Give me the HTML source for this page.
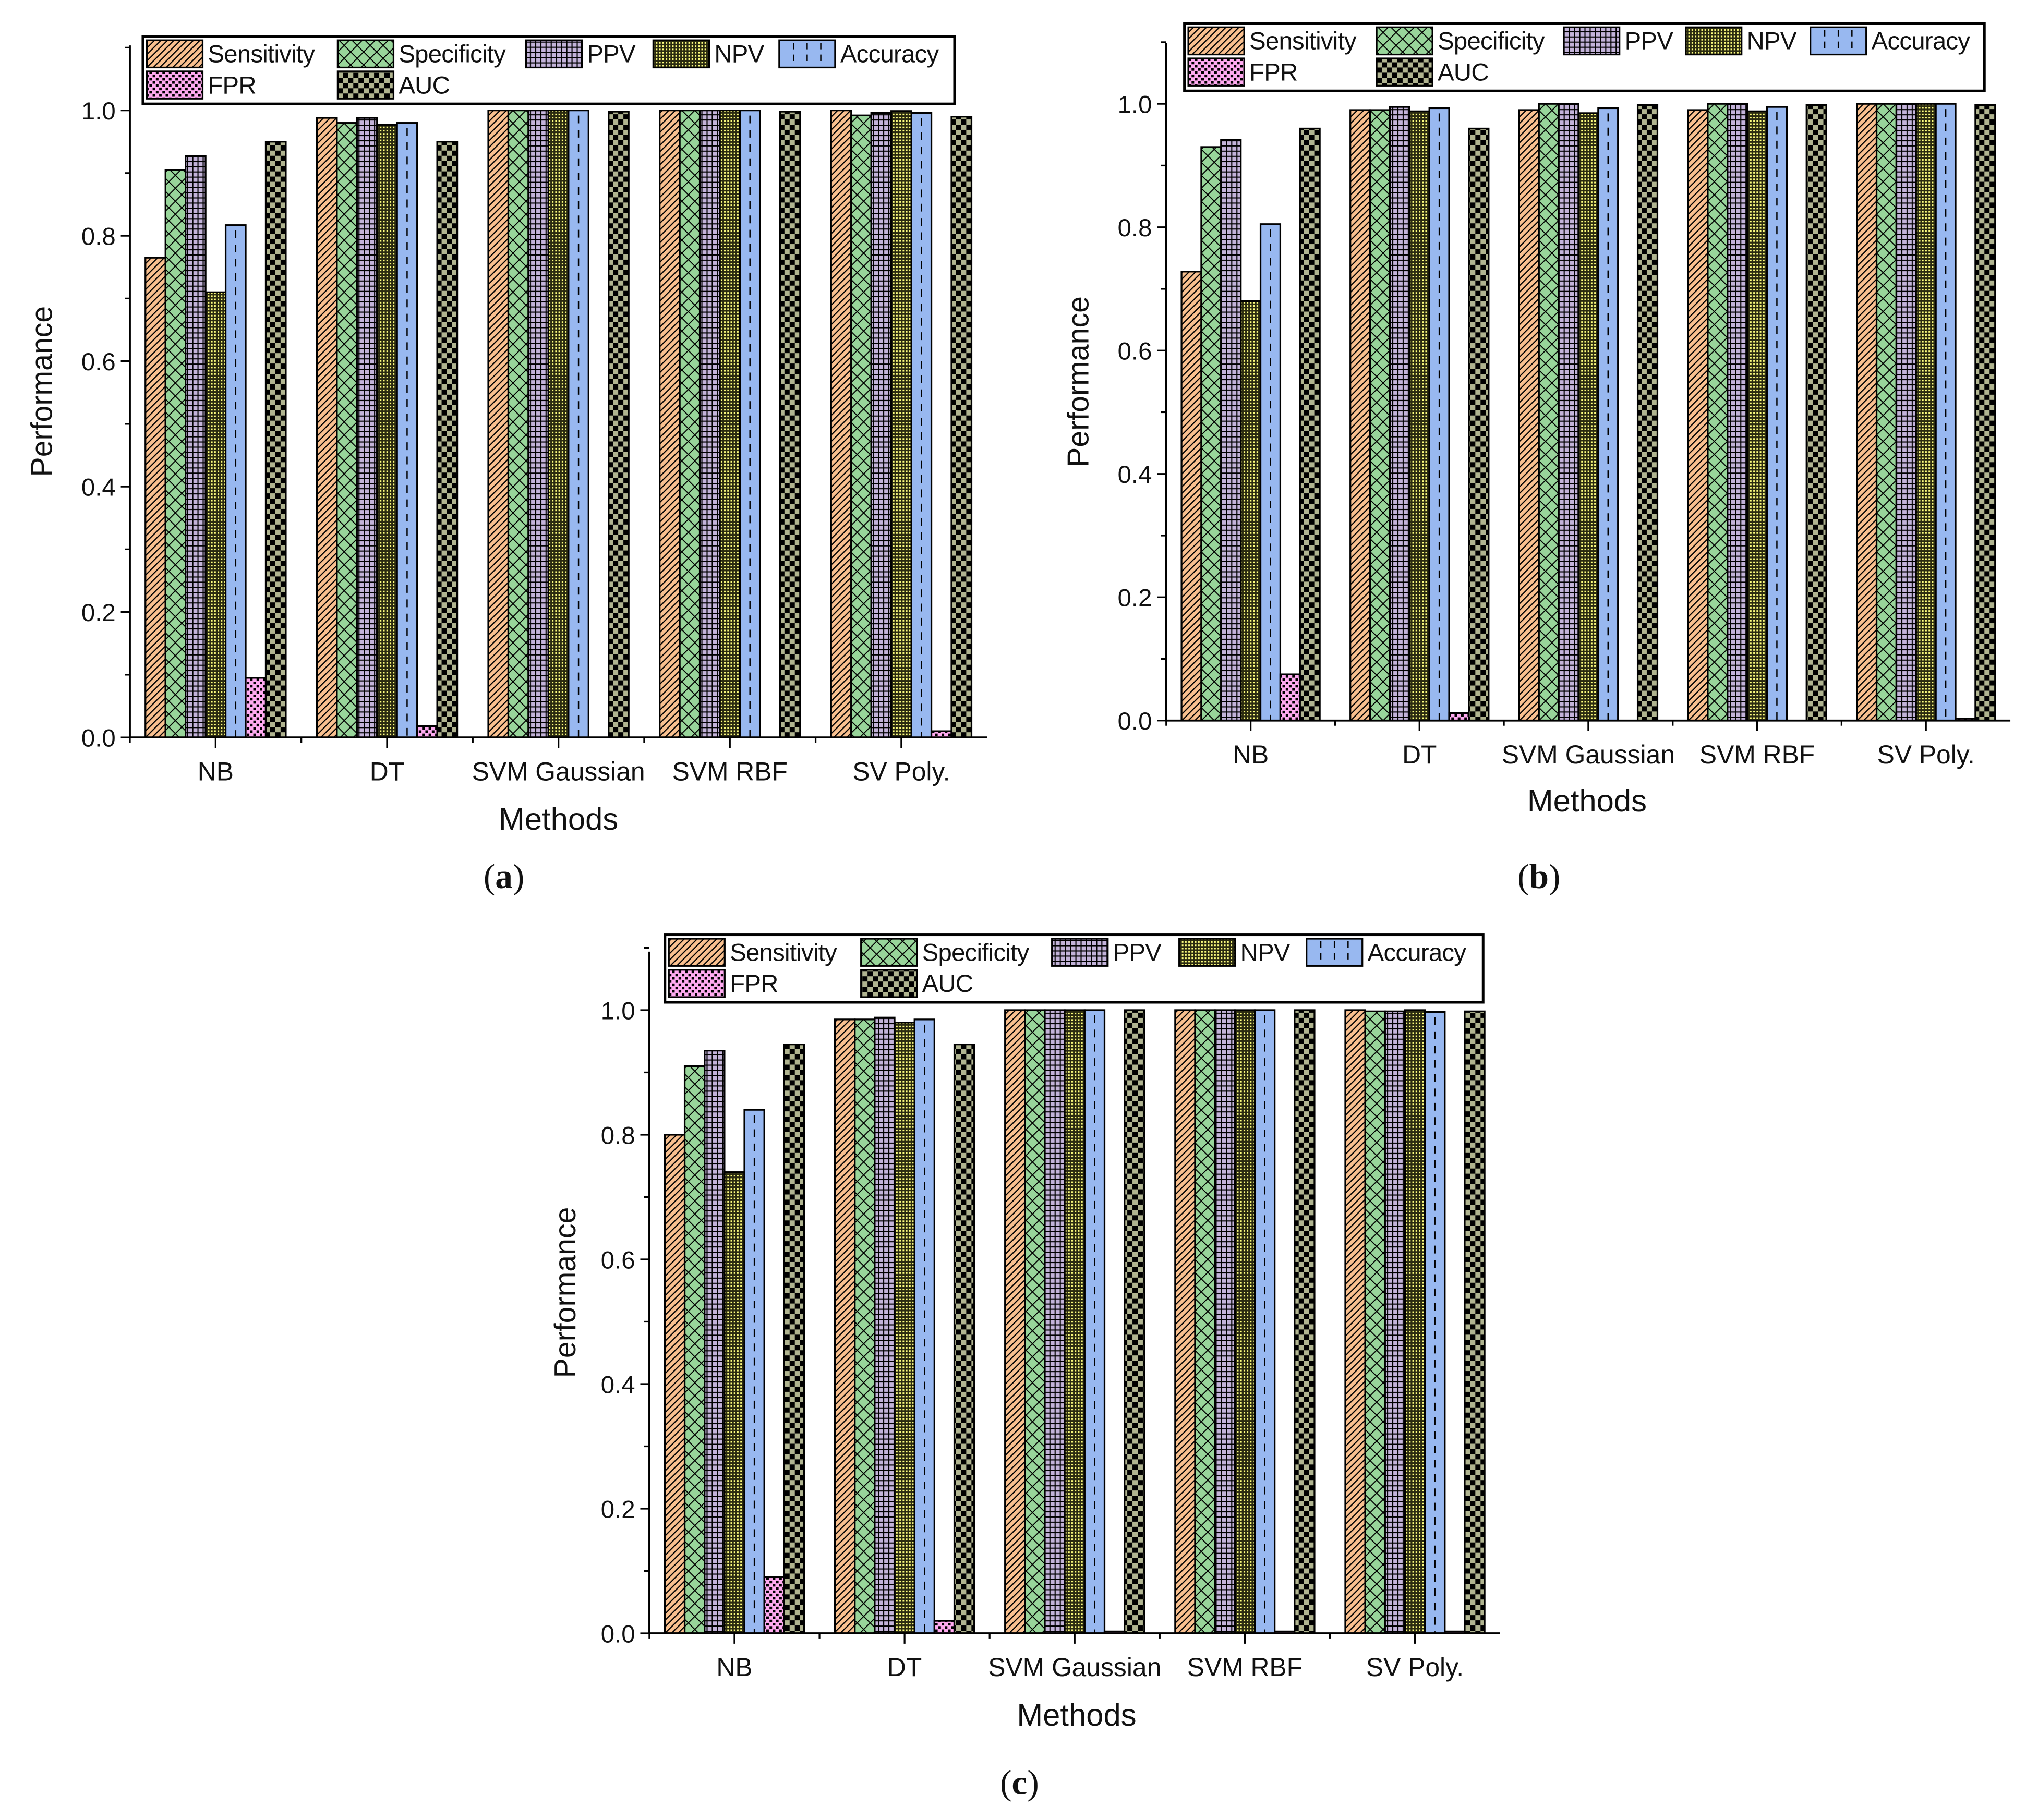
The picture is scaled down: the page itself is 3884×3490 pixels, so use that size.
<!DOCTYPE html>
<html><head><meta charset="utf-8">
<style>
html,body{margin:0;padding:0;background:#fff;}
svg{display:block;}
text{font-family:"Liberation Sans",Arial,sans-serif;fill:#111;}
.cap{font-family:"Liberation Serif",serif;}
</style></head>
<body>
<svg id="fig" width="3884" height="3490" viewBox="0 0 1560 1401.8" xmlns="http://www.w3.org/2000/svg">
<defs>
<pattern id="p-sens" width="5" height="5" patternUnits="userSpaceOnUse">
<rect width="5" height="5" fill="#F9C08F"/><path d="M0,5 L5,0 M-1,1 L1,-1 M4,6 L6,4" stroke="#000" stroke-width="0.9"/></pattern>
<pattern id="p-spec" width="10" height="10" patternUnits="userSpaceOnUse">
<rect width="10" height="10" fill="#98D59A"/><path d="M0,0 L10,10 M10,0 L0,10" stroke="#000" stroke-width="0.8"/></pattern>
<pattern id="p-ppv" width="4" height="4" patternUnits="userSpaceOnUse">
<rect width="4" height="4" fill="#C3B3D9"/><path d="M0,0.4 H4 M0.4,0 V4" stroke="#000" stroke-width="0.9"/></pattern>
<pattern id="p-npv" width="2.5" height="2.5" patternUnits="userSpaceOnUse">
<rect width="2.5" height="2.5" fill="#2a2a10"/><rect x="0" y="0" width="1.2" height="1.2" fill="#FFFF80"/></pattern>
<pattern id="p-acc" width="4" height="4" patternUnits="userSpaceOnUse">
<rect width="4" height="4" fill="#98B8F0"/></pattern>
<pattern id="p-fpr" width="5" height="5" patternUnits="userSpaceOnUse">
<rect width="5" height="5" fill="#FFAAF0"/><rect x="0" y="0" width="2" height="2" fill="#000"/><rect x="2.5" y="2.5" width="2" height="2" fill="#000"/></pattern>
<pattern id="p-auc" width="8" height="8" patternUnits="userSpaceOnUse">
<rect width="8" height="8" fill="#B0B490"/><rect width="4" height="4" fill="#000"/><rect x="4" y="4" width="4" height="4" fill="#000"/></pattern>
</defs>
<g id="root"></g>
</svg>
<script>
const categories = ["NB","DT","SVM Gaussian","SVM RBF","SV Poly."];
const seriesNames = ["Sensitivity","Specificity","PPV","NPV","Accuracy","FPR","AUC"];
const yTicks = [0,0.2,0.4,0.6,0.8,1.0];
const yTickLabels = ["0.0","0.2","0.4","0.6","0.8","1.0"];
const aSens=[0.765,0.988,1,1,1], aSpec=[0.905,0.98,1,1,0.992], aPpv=[0.927,0.988,1,1,0.996], aNpv=[0.71,0.977,1,1,0.999], aAcc=[0.817,0.98,1,1,0.996], aFpr=[0.095,0.018,0,0,0.01], aAuc=[0.95,0.95,0.998,0.998,0.99];
const bSens=[0.728,0.99,0.99,0.99,1], bSpec=[0.93,0.99,1,1,1], bPpv=[0.942,0.995,1,1,1], bNpv=[0.68,0.988,0.985,0.988,1], bAcc=[0.805,0.993,0.993,0.995,1], bFpr=[0.075,0.012,0,0,0.003], bAuc=[0.96,0.96,0.998,0.998,0.998];
const cSens=[0.8,0.985,1,1,1], cSpec=[0.91,0.985,1,1,0.998], cPpv=[0.935,0.988,1,1,0.998], cNpv=[0.74,0.98,1,1,1], cAcc=[0.84,0.985,1,1,0.997], cFpr=[0.09,0.02,0.003,0.003,0.003], cAuc=[0.945,0.945,1,1,0.998];

const NS="http://www.w3.org/2000/svg";
const root=document.getElementById('root');
const fills=["url(#p-sens)","url(#p-spec)","url(#p-ppv)","url(#p-npv)","url(#p-acc)","url(#p-fpr)","url(#p-auc)"];
function mk(tag,attrs,parent){const e=document.createElementNS(NS,tag);for(const k in attrs)e.setAttribute(k,attrs[k]);(parent||root).appendChild(e);return e;}

const panels=[
 {id:"a",series:[aSens,aSpec,aPpv,aNpv,aAcc,aFpr,aAuc],x0:100,x1:760,y0:568,y1:85,top:35,legX:110,legY:28,legW:625,ylx:32,mx:430,my:639,cx:388,cy:684,cols:[113,260,405,503,600]},
 {id:"b",series:[bSens,bSpec,bPpv,bNpv,bAcc,bFpr,bAuc],x0:898,x1:1548,y0:555,y1:80,top:33,legX:912,legY:18,legW:616,ylx:830,mx:1222,my:625,cx:1185,cy:684,cols:[915,1060,1204,1298,1394]},
 {id:"c",series:[cSens,cSpec,cPpv,cNpv,cAcc,cFpr,cAuc],x0:500,x1:1155,y0:1258,y1:778,top:733,legX:512,legY:720,legW:630,ylx:435,mx:829,my:1329,cx:785,cy:1382,cols:[515,663,810,908,1006]}
];

panels.forEach(p=>{
 const g=mk('g',{});
 
 
 const yS=v=>p.y0-(p.y0-p.y1)*v;
 const step=(p.x1-p.x0)/categories.length;
 const xC=i=>p.x0+step*(i+0.5);
 const bw=step*0.117;
 p.series.forEach((vals,s)=>{
  vals.forEach((v,i)=>{
   const x=xC(i)-3.5*bw+s*bw, y=yS(v), h=p.y0-y;
   if(h<=0.3) return;
   const r=mk('rect',{x:x,y:y,width:bw,height:h,fill:fills[s],stroke:'#000','stroke-width':1.3},g);
   
   
   if(s===4){mk('line',{x1:x+bw/2,x2:x+bw/2,y1:y+4,y2:p.y0,stroke:'#000','stroke-width':1,'stroke-dasharray':'6,5'},g);}
  });
 });
 const ax=mk('path',{d:`M${p.x0},${p.top} V${p.y0} H${p.x1}`,fill:'none',stroke:'#000','stroke-width':1.5},g);
 
 
 for(let v=0;v<=1.1001;v+=0.1){
  const major=Math.round(v*10)%2===0;
  mk('line',{x1:p.x0-(major?7:4),x2:p.x0,y1:yS(v),y2:yS(v),stroke:'#000','stroke-width':1.3},g);
 }
 yTicks.forEach((v,k)=>{
  const t=mk('text',{x:p.x0-11,y:yS(v)+7,'text-anchor':'end','font-size':19},g);
  t.textContent=yTickLabels[k];
  
  
 });
 categories.forEach((c,i)=>{
  mk('line',{x1:xC(i),x2:xC(i),y1:p.y0,y2:p.y0+8,stroke:'#000','stroke-width':1.3},g);
  mk('line',{x1:p.x0+step*i,x2:p.x0+step*i,y1:p.y0,y2:p.y0+4,stroke:'#000','stroke-width':1.3},g);
  const t=mk('text',{x:xC(i),y:p.y0+33,'text-anchor':'middle','font-size':20},g);
  t.textContent=c;
  
  
 });
 const cyl=(p.y0+p.top)/2-8;
 const yl=mk('text',{x:p.ylx,y:cyl,'text-anchor':'middle','font-size':23,transform:`rotate(-90 ${p.ylx+8} ${cyl})`},g);
 yl.textContent='Performance';
 
 
 const xl=mk('text',{x:p.mx,y:p.my,'text-anchor':'middle','font-size':24},g);
 xl.textContent='Methods';
 
 
 const cap=mk('text',{x:p.cx,y:p.cy,'text-anchor':'middle','font-size':27,class:'cap'},g);
 cap.innerHTML='(<tspan font-weight="bold">'+p.id+'</tspan>)';
 
 
 const lg=mk('g',{},g);
 
 
 mk('rect',{x:p.legX,y:p.legY,width:p.legW,height:52,fill:'#fff',stroke:'#000','stroke-width':2},lg);
 seriesNames.forEach((n,s)=>{
  const row=s<5?0:1;
  const col=s<5?s:(s===5?0:1);
  const lx=p.cols[col], ly=p.legY+3+row*24;
  const e=mk('g',{},lg);
  
  
  mk('rect',{x:lx,y:ly,width:43,height:21,fill:fills[s],stroke:'#000','stroke-width':1.3},e);
  if(s===4){[lx+11,lx+21.5,lx+32].forEach(xx=>mk('line',{x1:xx,x2:xx,y1:ly+2,y2:ly+20,stroke:'#000','stroke-width':1,'stroke-dasharray':'5,4'},e));}
  const t=mk('text',{x:lx+47,y:ly+17,'font-size':19,'letter-spacing':-0.3},e);
  t.textContent=n;
 });
});
</script>
</body></html>
